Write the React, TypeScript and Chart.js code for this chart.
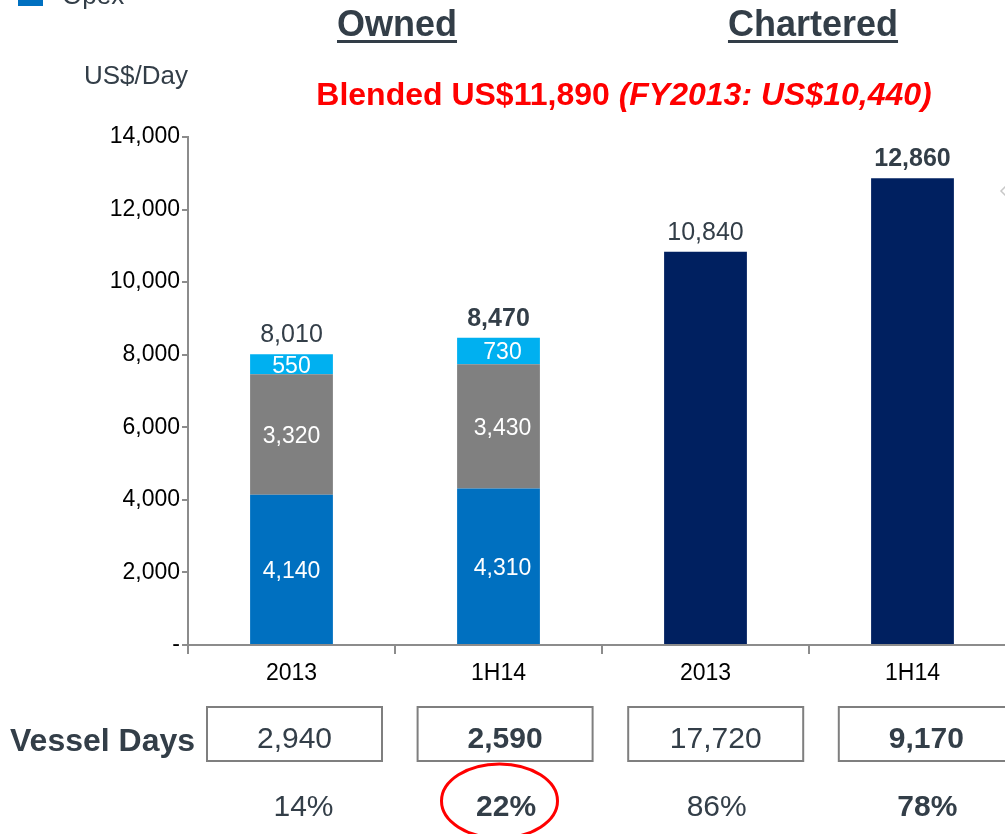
import React, { useEffect, useRef } from "react";
import { Chart, registerables } from "chart.js";

Chart.register(...registerables);

const categories = ["2013", "1H14", "2013", "1H14"];
const opex = [4140, 4310, null, null];
const depreciation = [3320, 3430, null, null];
const financeCost = [550, 730, null, null];
const charteredCost = [null, null, 10840, 12860];
const totals = [8010, 8470, 10840, 12860];
const totalBold = [false, true, false, true];
const vesselDays = [2940, 2590, 17720, 9170];
const shareOfDays = [14, 22, 86, 78];
const groupTitles = ["Owned", "Chartered"];
const blendedMain = "Blended US$11,890 ";
const blendedPrior = "(FY2013: US$10,440)";
const yUnit = "US$/Day";
const legendLabel = "Opex";

const FONT = '"Liberation Sans", Arial, sans-serif';
const DARK = "#333e48";
const GRAY_AXIS = "#8c8c8c";

const fmt = (v: number) => v.toLocaleString("en-US");

const overlayPlugin = {
  id: "overlay",
  afterDatasetsDraw(chart: any) {
    const ctx = chart.ctx;
    const yScale = chart.scales.y;
    ctx.save();
    ctx.textAlign = "center";
    ctx.textBaseline = "middle";
    ctx.fillStyle = "#ffffff";
    ctx.font = `23px ${FONT}`;
    [0, 1, 2].forEach((ds) => {
      const meta = chart.getDatasetMeta(ds);
      meta.data.forEach((el: any, i: number) => {
        const v = chart.data.datasets[ds].data[i];
        if (v == null) return;
        const p = el.getProps(["x", "y", "base"], true);
        ctx.fillText(fmt(v), p.x + (i === 1 ? 4 : 0), (p.y + p.base) / 2 + 2);
      });
    });
    ctx.textBaseline = "alphabetic";
    ctx.fillStyle = DARK;
    const xScale = chart.scales.x;
    totals.forEach((t, i) => {
      ctx.font = `${totalBold[i] ? "bold " : ""}25px ${FONT}`;
      const x = xScale.getPixelForValue(i);
      const y = yScale.getPixelForValue(t);
      ctx.fillText(fmt(t), x, y - 12);
    });
    ctx.restore();
  },
  afterDraw(chart: any) {
    const ctx = chart.ctx;
    const xScale = chart.scales.x;
    const cx = (i: number) => xScale.getPixelForValue(i);
    ctx.save();

    // legend fragment
    ctx.fillStyle = "#0070C0";
    ctx.fillRect(18, -8, 25, 14);
    ctx.fillStyle = DARK;
    ctx.font = `26px ${FONT}`;
    ctx.textAlign = "left";
    ctx.textBaseline = "alphabetic";
    ctx.fillText(legendLabel, 62, 4);

    // group titles
    ctx.font = `bold 36px ${FONT}`;
    ctx.textAlign = "center";
    ctx.fillStyle = DARK;
    const titleX = [(cx(0) + cx(1)) / 2 + 2, (cx(2) + cx(3)) / 2 + 4];
    groupTitles.forEach((t, i) => {
      ctx.fillText(t, titleX[i], 36);
      const w = ctx.measureText(t).width;
      ctx.fillRect(titleX[i] - w / 2, 40, w, 3);
    });

    // unit
    ctx.font = `26px ${FONT}`;
    ctx.fillText(yUnit, 136, 84);

    // blended
    ctx.textAlign = "left";
    ctx.fillStyle = "#ff0000";
    ctx.font = `bold 32px ${FONT}`;
    const w1 = ctx.measureText(blendedMain).width;
    ctx.font = `italic bold 32px ${FONT}`;
    const w2 = ctx.measureText(blendedPrior).width;
    const startX = 624 - (w1 + w2) / 2;
    ctx.font = `bold 32px ${FONT}`;
    ctx.fillText(blendedMain, startX, 105);
    ctx.font = `italic bold 32px ${FONT}`;
    ctx.fillText(blendedPrior, startX + w1, 105);

    // chevron artifact
    ctx.strokeStyle = "#c8c8c8";
    ctx.lineWidth = 1.5;
    ctx.beginPath();
    ctx.moveTo(1008, 184);
    ctx.lineTo(1001, 191);
    ctx.lineTo(1008, 198);
    ctx.stroke();

    // vessel days row
    ctx.fillStyle = DARK;
    ctx.textAlign = "left";
    ctx.textBaseline = "middle";
    ctx.font = `bold 32px ${FONT}`;
    ctx.fillText("Vessel Days", 10, 742);
    ctx.textAlign = "center";
    vesselDays.forEach((v, i) => {
      const bx = cx(i) + 3 + i * 3.6;
      ctx.strokeStyle = "#7f7f7f";
      ctx.lineWidth = 2;
      ctx.strokeRect(bx - 87.5, 707, 175, 54);
      ctx.fillStyle = DARK;
      ctx.font = `${totalBold[i] ? "bold " : ""}30px ${FONT}`;
      ctx.fillText(fmt(v), bx, 740);
      ctx.fillText(`${shareOfDays[i]}%`, bx + (i === 0 ? 9 : 1), 808);
    });

    // highlight ellipse
    ctx.strokeStyle = "#ff0000";
    ctx.lineWidth = 3;
    ctx.beginPath();
    ctx.ellipse(cx(1) + 1, 801, 58, 37, 0, 0, Math.PI * 2);
    ctx.stroke();

    ctx.restore();
  },
};

export default function App() {
  const ref = useRef<HTMLCanvasElement | null>(null);
  useEffect(() => {
    if (!ref.current) return;
    const chart = new Chart(ref.current, {
      type: "bar",
      data: {
        labels: categories,
        datasets: [
          { label: "Opex", data: opex, backgroundColor: "#0070C0" },
          { label: "Depreciation", data: depreciation, backgroundColor: "#808080" },
          { label: "Finance cost", data: financeCost, backgroundColor: "#00B0F0" },
          { label: "Charter hire", data: charteredCost, backgroundColor: "#002060" },
        ] as any,
      },
      options: {
        responsive: false,
        animation: false,
        layout: { padding: { top: 137, right: 14, left: 0, bottom: 0 } },
        plugins: { legend: { display: false }, tooltip: { enabled: false } },
        datasets: { bar: { barPercentage: 0.4, categoryPercentage: 1 } },
        scales: {
          x: {
            stacked: true,
            afterFit: (s: any) => {
              s.height = 189;
            },
            grid: {
              offset: true,
              drawOnChartArea: false,
              drawTicks: true,
              tickLength: 9,
              color: GRAY_AXIS,
              lineWidth: 2,
            },
            border: { display: true, color: GRAY_AXIS, width: 2 },
            ticks: { color: "#000", font: { family: FONT, size: 23 }, padding: 6 },
          },
          y: {
            stacked: true,
            min: 0,
            max: 14000,
            afterFit: (s: any) => {
              s.width = 188;
            },
            grid: {
              drawOnChartArea: false,
              drawTicks: true,
              tickLength: 6,
              color: GRAY_AXIS,
              lineWidth: 2,
            },
            border: { display: true, color: GRAY_AXIS, width: 2 },
            ticks: {
              stepSize: 2000,
              color: "#000",
              padding: 2,
              font: { family: FONT, size: 23 },
              callback: (v: any) => (Number(v) === 0 ? "-" : fmt(Number(v))),
            },
          },
        },
      },
      plugins: [overlayPlugin],
    });
    return () => chart.destroy();
  }, []);
  return (
    <div
      style={{
        position: "fixed",
        left: 0,
        top: 0,
        width: 1005,
        height: 834,
        overflow: "hidden",
        background: "#fff",
      }}
    >
      <canvas ref={ref} width={1030} height={834} style={{ display: "block" }} />
    </div>
  );
}
